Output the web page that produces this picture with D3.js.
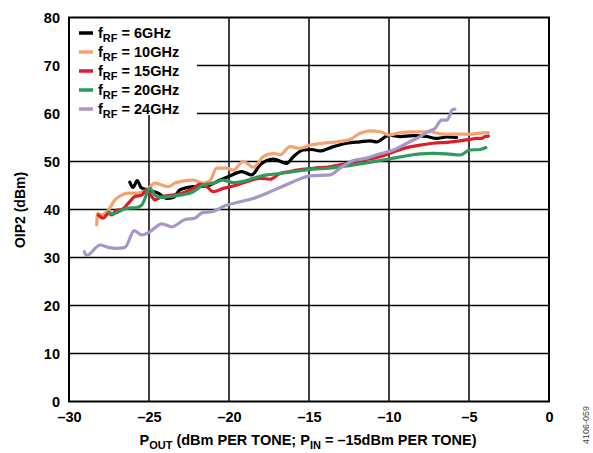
<!DOCTYPE html>
<html><head><meta charset="utf-8">
<script src="https://cdn.jsdelivr.net/npm/d3@7/dist/d3.min.js"></script>
<style>body{margin:0;background:#fff;}svg{display:block;font-family:Arial,"Liberation Sans",sans-serif;font-weight:bold;}</style>
</head><body><svg id="c" width="593" height="453"></svg>
<script>
const xTicks = [-30,-25,-20,-15,-10,-5,0];
const yTicks = [0,10,20,30,40,50,60,70,80];
const seriesNames = ["6GHz","10GHz","15GHz","20GHz","24GHz"];
const seriesColors = ["#000000","#F5A271","#D91F2A","#2E9A5E","#A896CB"];

const s6 = [[-26.2,45.7],[-26.0,44.6],[-25.74,46.0],[-25.5,44.6],[-25.2,44.2],[-24.8,43.8],[-24.42,43.4],[-23.89,42.3],[-23.48,42.5],[-23.06,44.1],[-22.23,44.75],[-21.39,44.9],[-20.77,45.8],[-19.94,47.0],[-19.21,47.9],[-18.58,47.2],[-18.06,49.3],[-17.23,50.5],[-16.39,49.6],[-15.98,51.0],[-15.36,52.4],[-14.83,52.5],[-14.31,52.2],[-13.48,53.1],[-12.64,53.8],[-11.81,54.1],[-11.19,54.3],[-10.77,54.1],[-10.14,55.3],[-9.94,55.5],[-9.31,55.2],[-8.48,55.4],[-7.64,55.2],[-7.02,54.8],[-6.39,55.1],[-5.77,55.0]];
const s10 = [[-28.27,36.8],[-28.21,39.2],[-27.96,38.9],[-27.54,39.9],[-27.13,42.0],[-26.71,43.0],[-26.29,43.4],[-25.77,43.4],[-25.14,44.1],[-24.63,45.5],[-24.21,45.1],[-23.79,44.75],[-23.38,45.5],[-23.06,45.8],[-22.23,46.1],[-21.61,45.5],[-21.19,46.0],[-20.77,48.6],[-20.14,48.6],[-19.73,48.2],[-19.11,50.0],[-18.48,48.8],[-17.86,51.0],[-17.23,51.7],[-16.81,51.4],[-16.19,53.1],[-15.56,52.75],[-14.94,53.4],[-14.11,53.8],[-13.27,54.1],[-12.44,54.6],[-11.81,55.9],[-11.19,56.4],[-10.56,56.2],[-9.94,55.5],[-9.73,55.7],[-8.89,56.1],[-8.06,56.2],[-7.44,56.2],[-6.61,55.7],[-5.77,55.7],[-4.94,55.7],[-4.31,55.9],[-3.79,56.0]];
const s15 = [[-28.17,38.85],[-27.86,38.2],[-27.54,39.2],[-27.33,38.85],[-27.02,39.9],[-26.71,40.0],[-26.29,41.3],[-25.88,42.7],[-25.46,43.0],[-25.14,44.1],[-24.83,42.7],[-24.63,42.0],[-24.21,42.7],[-23.58,43.0],[-22.96,43.4],[-22.23,44.4],[-21.81,45.3],[-21.39,44.75],[-20.98,43.7],[-20.36,44.4],[-19.73,44.9],[-18.89,45.8],[-18.06,46.5],[-17.44,46.3],[-16.81,47.5],[-16.19,47.9],[-15.77,48.2],[-14.73,48.6],[-13.69,48.9],[-12.64,49.6],[-11.61,50.3],[-10.56,51.0],[-9.73,52.0],[-8.89,52.9],[-8.06,53.4],[-7.23,53.8],[-6.39,54.0],[-5.56,54.3],[-4.94,54.6],[-4.52,54.8],[-4.21,54.8],[-4.0,55.2],[-3.79,55.3]];
const s20 = [[-27.54,39.5],[-27.23,39.1],[-26.92,39.5],[-26.39,40.25],[-25.77,40.4],[-25.46,40.9],[-25.25,42.3],[-25.09,43.85],[-24.94,44.4],[-24.63,43.0],[-24.31,42.5],[-23.69,42.7],[-23.06,43.0],[-22.23,43.7],[-21.61,45.1],[-20.98,45.5],[-20.36,46.1],[-19.73,45.6],[-19.21,45.8],[-18.48,46.5],[-17.64,47.2],[-16.81,47.5],[-15.77,48.0],[-14.73,48.4],[-13.69,48.6],[-12.64,49.1],[-11.61,49.6],[-10.56,50.2],[-9.73,50.7],[-8.89,51.2],[-8.06,51.6],[-7.23,51.7],[-6.39,51.6],[-5.56,51.35],[-4.94,52.4],[-4.31,52.5],[-3.94,52.9]];
const s24 = [[-29.04,31.2],[-28.9,30.4],[-28.06,32.6],[-27.54,32.1],[-27.02,31.9],[-26.5,32.1],[-25.92,35.6],[-25.46,34.7],[-24.94,35.4],[-24.2,37.0],[-23.58,36.4],[-22.75,37.9],[-22.13,38.2],[-21.7,39.3],[-21.0,39.6],[-20.25,40.8],[-19.3,41.6],[-18.48,42.3],[-17.64,43.4],[-16.81,44.6],[-15.98,45.8],[-14.94,47.0],[-13.69,47.2],[-13.06,48.6],[-12.23,50.2],[-11.39,50.7],[-10.56,51.6],[-9.73,52.4],[-8.89,53.8],[-8.06,55.2],[-7.44,56.4],[-7.13,56.9],[-6.71,58.6],[-6.39,58.6],[-6.19,59.7],[-6.08,60.7],[-5.88,60.9]];
const seriesData = [s6,s10,s15,s20,s24];

const svg = d3.select("#c");
const L=69, R=549, T=17.5, B=401.5;
const x = d3.scaleLinear().domain([-30,0]).range([L,R]);
const y = d3.scaleLinear().domain([0,80]).range([B,T]);
const fmt = v => (v<0? "\u2013"+Math.abs(v) : String(v));

// grid
const g = svg.append("g");
g.selectAll(".vg").data(xTicks.slice(1,-1)).enter().append("line")
  .attr("x1",d=>x(d)).attr("x2",d=>x(d)).attr("y1",T).attr("y2",B)
  .attr("stroke","#000").attr("stroke-width",1.5);
g.selectAll(".hg").data(yTicks.slice(1,-1)).enter().append("line")
  .attr("x1",L).attr("x2",R).attr("y1",d=>y(d)).attr("y2",d=>y(d))
  .attr("stroke","#000").attr("stroke-width",1.5);

// series
const line = d3.line().x(d=>x(d[0])).y(d=>y(d[1])).curve(d3.curveMonotoneX);
seriesData.forEach((s,i)=>{
  svg.append("path").datum(s).attr("d",line).attr("fill","none")
    .attr("stroke",seriesColors[i]).attr("stroke-width",3.2)
    .attr("stroke-linejoin","round").attr("stroke-linecap","round");
});

// legend box
svg.append("rect").attr("x",L).attr("y",T).attr("width",128).attr("height",97.5).attr("fill","#fff");
seriesNames.forEach((n,i)=>{
  const yy = 33 + i*19;
  svg.append("line").attr("x1",79).attr("x2",93).attr("y1",yy).attr("y2",yy)
    .attr("stroke",seriesColors[i]).attr("stroke-width",3.5);
  const t = svg.append("text").attr("x",98).attr("y",yy+5).attr("font-size",14.5).attr("fill","#000");
  t.append("tspan").text("f");
  t.append("tspan").attr("dy",4).attr("font-size",11).text("RF");
  t.append("tspan").attr("dy",-4).text(" = "+n);
});

// frame
svg.append("rect").attr("x",L).attr("y",T).attr("width",R-L).attr("height",B-T)
  .attr("fill","none").attr("stroke","#000").attr("stroke-width",2);

// axes
const xa = svg.append("g").attr("transform",`translate(0,${B})`)
  .call(d3.axisBottom(x).tickValues(xTicks).tickFormat(fmt).tickSize(0).tickPadding(10));
xa.select(".domain").remove();
xa.selectAll("text").attr("font-size",14.5).attr("font-family","Arial, 'Liberation Sans', sans-serif").attr("font-weight","bold").attr("fill","#000");
const ya = svg.append("g").attr("transform",`translate(${L},0)`)
  .call(d3.axisLeft(y).tickValues(yTicks).tickFormat(fmt).tickSize(0).tickPadding(9));
ya.select(".domain").remove();
ya.selectAll("text").attr("font-size",14.5).attr("font-family","Arial, 'Liberation Sans', sans-serif").attr("font-weight","bold").attr("fill","#000");

// axis titles
svg.append("text").attr("transform","translate(25,210) rotate(-90)").attr("text-anchor","middle")
  .attr("font-size",14).attr("fill","#000").text("OIP2 (dBm)");
const xt = svg.append("text").attr("x",308).attr("y",445).attr("text-anchor","middle").attr("font-size",14.5).attr("fill","#000");
xt.append("tspan").text("P");
xt.append("tspan").attr("dy",3.5).attr("font-size",11).text("OUT");
xt.append("tspan").attr("dy",-3.5).text(" (dBm PER TONE; P");
xt.append("tspan").attr("dy",3.5).attr("font-size",11).text("IN");
xt.append("tspan").attr("dy",-3.5).text(" = \u201315dBm PER TONE)");

svg.append("text").attr("transform","translate(589,425) rotate(-90)").attr("text-anchor","middle")
  .attr("font-size",9).attr("font-weight","normal").attr("fill","#444").text("4106-059");
</script></body></html>
